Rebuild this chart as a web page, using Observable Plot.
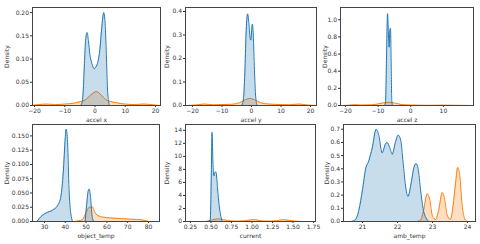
<!DOCTYPE html>
<html>
<head>
<meta charset="utf-8">
<script src="https://cdn.jsdelivr.net/npm/d3@7"></script>
<script src="https://cdn.jsdelivr.net/npm/@observablehq/plot@0.6"></script>
<style>
  html, body { margin: 0; padding: 0; background: #fff; }
  #wrap { position: relative; width: 480px; height: 244px; overflow: hidden; }
  #wrap svg { position: absolute; overflow: visible; }
</style>
</head>
<body>
<div id="wrap"></div>
<script>
// ---- data: [value, density] pairs ----
const accelX_blue = [[-4.8,0],[-4.3,0.005],[-3.9,0.03],[-3.5,0.09],[-3.1,0.14],[-2.6,0.157],[-2.2,0.14],[-1.7,0.11],[-1.0,0.09],[-0.3,0.079],[0.3,0.083],[1.0,0.095],[1.6,0.12],[2.2,0.165],[2.9,0.20],[3.4,0.17],[3.8,0.10],[4.1,0.04],[4.5,0.008],[4.9,0]];
const accelX_orange = [[-21,0],[-18.5,0.002],[-16,0.003],[-13,0.002],[-10,0.003],[-7,0.005],[-5,0.008],[-3,0.013],[-1.5,0.022],[0.5,0.030],[2,0.023],[3.5,0.013],[5,0.009],[7,0.006],[10,0.003],[13,0.002],[16,0.003],[18.5,0.002],[21,0]];
const accelY_blue = [[-3.3,0],[-2.7,0.03],[-2.2,0.16],[-1.8,0.32],[-1.3,0.39],[-0.9,0.35],[-0.5,0.29],[-0.2,0.278],[0.1,0.33],[0.3,0.346],[0.6,0.30],[1.0,0.15],[1.4,0.04],[1.9,0]];
const accelY_orange = [[-22,0],[-19,0.002],[-16,0.006],[-13,0.003],[-10,0.004],[-7,0.005],[-4,0.012],[-2,0.025],[-0.5,0.030],[1,0.025],[3,0.012],[6,0.006],[10,0.004],[13,0.003],[16,0.006],[19,0.002],[22,0]];
const accelZ_blue = [[-8.0,0],[-7.7,0.05],[-7.4,0.6],[-7.1,1.07],[-6.8,0.8],[-6.6,0.68],[-6.4,0.88],[-6.2,0.9],[-6.0,0.5],[-5.8,0.05],[-5.6,0]];
const accelZ_orange = [[-21,0],[-19,0.003],[-17,0.01],[-15,0.005],[-12,0.008],[-10,0.018],[-8,0.034],[-6.5,0.037],[-5,0.03],[-3,0.012],[0,0.005],[3,0.003],[6,0.002],[10,0.004],[14,0.002],[17,0.001],[19,0]];
const objTemp_blue = [[26.4,0],[28.4,0.009],[30.8,0.015],[33.9,0.020],[36.3,0.028],[37.9,0.044],[39.0,0.085],[40.0,0.147],[40.4,0.162],[41.1,0.138],[41.8,0.056],[42.6,0.015],[43.7,0],[49.4,0],[50.2,0.027],[51.0,0.053],[51.5,0.057],[52.1,0.044],[52.9,0.009],[53.7,0]];
const objTemp_orange = [[44.2,0],[48.2,0.003],[50,0.016],[51.3,0.024],[52.9,0.026],[54.5,0.014],[57.6,0.008],[62.4,0.006],[67.1,0.005],[71.9,0.004],[76.6,0.003],[79,0.001],[80.5,0]];
const current_blue = [[0.25,0],[0.45,0],[0.49,0.2],[0.505,8.0],[0.512,13.7],[0.525,8.6],[0.535,7.0],[0.545,7.5],[0.56,7.6],[0.58,5.0],[0.60,2.4],[0.62,0.8],[0.64,0],[1.0,0]];
const current_orange = [[0.40,0],[0.47,0.05],[0.52,0.25],[0.58,0.4],[0.65,0.3],[0.72,0.1],[0.80,0.05],[0.90,0.08],[1.0,0.28],[1.05,0.25],[1.12,0.08],[1.22,0.05],[1.30,0.1],[1.37,0.28],[1.44,0.2],[1.52,0.05],[1.6,0.01],[1.7,0]];
const ambTemp_blue = [[20.68,0],[20.8,0.015],[20.9,0.09],[21.0,0.24],[21.09,0.40],[21.18,0.46],[21.28,0.56],[21.39,0.70],[21.47,0.65],[21.56,0.52],[21.66,0.59],[21.70,0.60],[21.78,0.56],[21.85,0.51],[21.94,0.60],[22.02,0.655],[22.09,0.62],[22.16,0.45],[22.23,0.27],[22.30,0.19],[22.39,0.29],[22.47,0.41],[22.53,0.44],[22.59,0.40],[22.66,0.24],[22.73,0.10],[22.81,0.03],[22.90,0]];
const ambTemp_orange = [[22.56,0],[22.66,0.01],[22.75,0.09],[22.85,0.21],[22.92,0.17],[23.0,0.04],[23.09,0.015],[23.18,0.09],[23.28,0.22],[23.34,0.18],[23.42,0.05],[23.51,0.015],[23.59,0.12],[23.66,0.29],[23.72,0.41],[23.78,0.35],[23.85,0.12],[23.91,0.03],[23.99,0]];

// ---- tick values and labels ----
const accelXTicksX = [-20,-10,0,10,20], accelXTickLabelsX = ["−20","−10","0","10","20"];
const accelXTicksY = [0,0.05,0.10,0.15,0.20], accelXTickLabelsY = ["0.00","0.05","0.10","0.15","0.20"];
const accelYTicksX = [-20,-10,0,10,20], accelYTickLabelsX = ["−20","−10","0","10","20"];
const accelYTicksY = [0,0.1,0.2,0.3,0.4], accelYTickLabelsY = ["0.0","0.1","0.2","0.3","0.4"];
const accelZTicksX = [-20,-10,0,10], accelZTickLabelsX = ["−20","−10","0","10"];
const accelZTicksY = [0,0.2,0.4,0.6,0.8,1.0], accelZTickLabelsY = ["0.0","0.2","0.4","0.6","0.8","1.0"];
const objTempTicksX = [30,40,50,60,70,80], objTempTickLabelsX = ["30","40","50","60","70","80"];
const objTempTicksY = [0,0.025,0.05,0.075,0.1,0.125,0.15], objTempTickLabelsY = ["0.000","0.025","0.050","0.075","0.100","0.125","0.150"];
const currentTicksX = [0.25,0.5,0.75,1,1.25,1.5,1.75], currentTickLabelsX = ["0.25","0.50","0.75","1.00","1.25","1.50","1.75"];
const currentTicksY = [0,2,4,6,8,10,12,14], currentTickLabelsY = ["0","2","4","6","8","10","12","14"];
const ambTempTicksX = [21,22,23,24], ambTempTickLabelsX = ["21","22","23","24"];
const ambTempTicksY = [0,0.1,0.2,0.3,0.4,0.5,0.6,0.7], ambTempTickLabelsY = ["0.0","0.1","0.2","0.3","0.4","0.5","0.6","0.7"];

const panelLabels = ["accel x","accel y","accel z","object_temp","current","amb_temp"];
const yLabel = "Density";

// ---- layout ----
const panels = [
  {blue: accelX_blue, orange: accelX_orange, xd: [-20.66, 21.65], yd: [0, 0.211], tx: accelXTicksX, lx: accelXTickLabelsX, ty: accelXTicksY, ly: accelXTickLabelsY, box: [32,160,7,105], svg: [0,0,164,122]},
  {blue: accelY_blue, orange: accelY_orange, xd: [-22.37, 22.03], yd: [0, 0.417], tx: accelYTicksX, lx: accelYTickLabelsX, ty: accelYTicksY, ly: accelYTickLabelsY, box: [185,316,7,105], svg: [160,0,160,122]},
  {blue: accelZ_blue, orange: accelZ_orange, xd: [-21.5, 19.2], yd: [0, 1.143], tx: accelZTicksX, lx: accelZTickLabelsX, ty: accelZTicksY, ly: accelZTickLabelsY, box: [340,473,7,105], svg: [318,0,162,122]},
  {blue: objTemp_blue, orange: objTemp_orange, xd: [24.23, 85.3], yd: [0, 0.170], tx: objTempTicksX, lx: objTempTickLabelsX, ty: objTempTicksY, ly: objTempTickLabelsY, box: [32,159,124,221], svg: [0,122,162,122]},
  {blue: current_blue, orange: current_orange, xd: [0.189, 1.774], yd: [0, 14.9], tx: currentTicksX, lx: currentTickLabelsX, ty: currentTicksY, ly: currentTickLabelsY, box: [185,315,124,221], svg: [160,122,160,122]},
  {blue: ambTemp_blue, orange: ambTemp_orange, xd: [20.457, 24.23], yd: [0, 0.736], tx: ambTempTicksX, lx: ambTempTickLabelsX, ty: ambTempTicksY, ly: ambTempTickLabelsY, box: [343,475,124,221], svg: [320,122,160,122]}
];

const BLUE = "#1f77b4", ORANGE = "#ff7f0e";
const wrap = document.getElementById("wrap");

panels.forEach((p, i) => {
  const [x0, x1, y0, y1] = p.box;
  const [sx, sy, sw, sh] = p.svg;
  const xy = {x: d => d[0], y: d => d[1]};
  const chart = Plot.plot({
    width: sw, height: sh,
    marginLeft: x0 - sx, marginRight: sx + sw - x1,
    marginTop: y0 - sy, marginBottom: sy + sh - y1,
    style: {fontFamily: "DejaVu Sans, sans-serif", fontSize: "6px", color: "#333", background: "transparent", overflow: "visible"},
    x: {domain: p.xd},
    y: {domain: p.yd},
    marks: [
      // seaborn draws hue levels in reverse order: orange first, blue on top
      Plot.areaY(p.orange, {...xy, fill: ORANGE, fillOpacity: 0.25, curve: "monotone-x", clip: true}),
      Plot.lineY(p.orange, {...xy, stroke: ORANGE, strokeWidth: 1, curve: "monotone-x", clip: true}),
      Plot.areaY(p.blue, {...xy, fill: BLUE, fillOpacity: 0.25, curve: "monotone-x", clip: true}),
      Plot.lineY(p.blue, {...xy, stroke: BLUE, strokeWidth: 1, curve: "monotone-x", clip: true}),
      Plot.axisX({ticks: p.tx, tickFormat: (d, k) => p.lx[k], tickSize: 2, tickPadding: 1, stroke: "#333",
        label: panelLabels[i], labelAnchor: "center", labelArrow: "none", labelOffset: 16}),
      Plot.axisY({ticks: p.ty, tickFormat: (d, k) => p.ly[k], tickSize: 2, tickPadding: 1.5, stroke: "#333",
        label: yLabel, labelAnchor: "center", labelArrow: "none", labelOffset: (x0 - sx) - 4}),
      Plot.frame({stroke: "#444", strokeWidth: 1})
    ]
  });
  chart.style.left = sx + "px";
  chart.style.top = sy + "px";
  wrap.appendChild(chart);
});
</script>
</body>
</html>
